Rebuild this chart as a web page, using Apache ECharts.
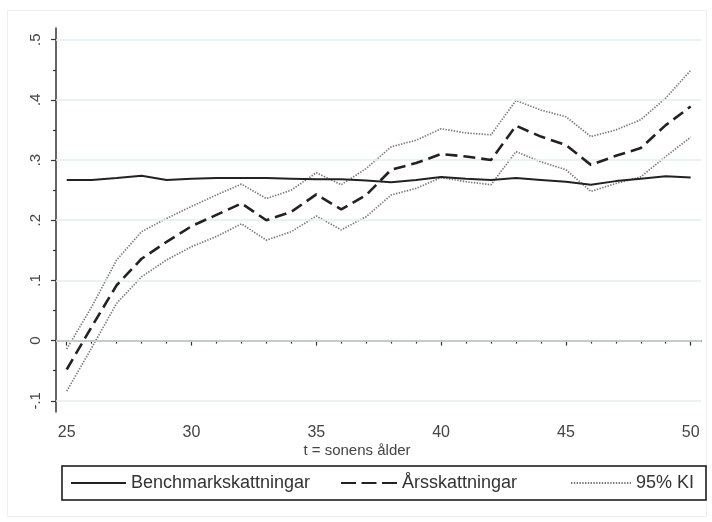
<!DOCTYPE html>
<html><head><meta charset="utf-8">
<script src="https://cdn.jsdelivr.net/npm/echarts@6/dist/echarts.min.js"></script>
<style>html,body{margin:0;padding:0;background:#fff}#c{width:712px;height:522px}</style>
</head><body><div id="c"></div>
<script>
const ages = [25,26,27,28,29,30,31,32,33,34,35,36,37,38,39,40,41,42,43,44,45,46,47,48,49,50];
const benchmark = [0.267,0.267,0.270,0.274,0.267,0.269,0.270,0.270,0.270,0.269,0.268,0.268,0.266,0.263,0.267,0.272,0.269,0.267,0.270,0.267,0.264,0.259,0.265,0.269,0.273,0.271];
const arsskattningar = [-0.048,0.023,0.092,0.136,0.164,0.190,0.209,0.228,0.200,0.214,0.243,0.218,0.242,0.284,0.295,0.310,0.306,0.300,0.357,0.339,0.325,0.292,0.307,0.320,0.358,0.389];
const kiUpper = [-0.014,0.056,0.134,0.181,0.203,0.223,0.242,0.260,0.236,0.250,0.279,0.259,0.286,0.322,0.333,0.352,0.345,0.342,0.399,0.383,0.372,0.339,0.350,0.367,0.403,0.449];
const kiLower = [-0.084,-0.012,0.062,0.106,0.134,0.156,0.173,0.194,0.167,0.181,0.207,0.184,0.206,0.242,0.253,0.271,0.264,0.259,0.314,0.297,0.284,0.248,0.261,0.272,0.306,0.338];
const xMajor = [25,30,35,40,45,50];
const xMinor = [26,27,28,29,31,32,33,34,36,37,38,39,41,42,43,44,46,47,48,49];
const yMajor = [-0.1,0,0.1,0.2,0.3,0.4,0.5];
const yMinor = [-0.05,0.05,0.15,0.25,0.35,0.45];
const xTitle = 't = sonens ålder';
const yLabel = v => { const s = (Math.round(v*10)/10).toString(); return s.replace('0.', '.'); };

const FONT = 'Liberation Sans';
const pair = (a) => ages.map((x,i)=>[x,a[i]]);
const chart = echarts.init(document.getElementById('c'), null, {renderer:'canvas'});
const xMin = 24.571, xMax = 50.413, yMin = -0.1186, yMax = 0.5194;
const legendText = {fontSize:18, color:'#333', fontFamily:FONT};
const legendItem = {color:'rgba(0,0,0,0)', borderWidth:0};
chart.setOption({
  animation:false,
  backgroundColor:'#fff',
  textStyle:{fontFamily:FONT},
  grid:{left:56, right:11, top:28, bottom:110, containLabel:false},
  xAxis:[{
    type:'value', min:xMin, max:xMax, position:'bottom',
    axisLine:{show:true, lineStyle:{color:'#333', width:1.5}},
    axisTick:{show:true, customValues:xMajor, length:5, lineStyle:{color:'#333', width:1.2}},
    axisLabel:{customValues:xMajor, margin:13, fontSize:16, color:'#444', fontFamily:FONT},
    splitLine:{show:false}
  },{
    type:'value', min:xMin, max:xMax, position:'bottom',
    axisLine:{show:false},
    axisTick:{show:true, customValues:xMinor, length:3, lineStyle:{color:'#333', width:1.2}},
    axisLabel:{show:false}, splitLine:{show:false}
  }],
  yAxis:[{
    type:'value', min:yMin, max:yMax, position:'left',
    axisLine:{show:true, lineStyle:{color:'#333', width:1.5}},
    axisTick:{show:true, customValues:yMajor, length:5, lineStyle:{color:'#333', width:1.2}},
    axisLabel:{customValues:yMajor, formatter:yLabel, rotate:90, margin:13, fontSize:15, color:'#444', fontFamily:FONT},
    splitLine:{show:false}
  },{
    type:'value', min:yMin, max:yMax, position:'left',
    axisLine:{show:false},
    axisTick:{show:true, customValues:yMinor, length:3, lineStyle:{color:'#333', width:1.2}},
    axisLabel:{show:false}, splitLine:{show:false}
  }],
  legend:[
    {data:['Benchmarkskattningar'], left:70, top:474, padding:0, itemWidth:55, itemHeight:12, itemGap:5,
     itemStyle:legendItem, textStyle:legendText},
    {data:['Årsskattningar'], left:340, top:474, padding:0, itemWidth:56, itemHeight:12,
     itemStyle:legendItem, textStyle:legendText, lineStyle:{type:[15,5.5]}},
    {data:['95% KI'], left:570, top:474, padding:0, itemWidth:60, itemHeight:12,
     itemStyle:legendItem, textStyle:legendText}
  ],
  graphic:[
    {type:'rect', shape:{x:7.5, y:10.5, width:699, height:506}, style:{fill:null, stroke:'#eeeeee', lineWidth:1}, silent:true, z:-1},
    {type:'rect', shape:{x:62, y:466, width:644, height:34}, style:{fill:null, stroke:'#111', lineWidth:1.5}, silent:true},
    {type:'text', x:357, y:443, style:{text:xTitle, fontSize:15, fill:'#444', fontFamily:FONT, align:'center', verticalAlign:'top'}, silent:true}
  ],
  series:[
    {name:'grid', type:'line', data:[], silent:true, xAxisIndex:0, yAxisIndex:0,
     markLine:{silent:true, symbol:'none', label:{show:false},
       lineStyle:{color:'#e4eeef', width:1.5, type:'solid'},
       data: yMajor.map(v=>({yAxis:v}))}, z:1},
    {name:'95% KI', type:'line', data:pair(kiUpper), symbol:'none', z:3,
     lineStyle:{color:'#7a7a7a', width:1.7, type:[1.4,1.4]}, itemStyle:{color:'#7a7a7a'}},
    {name:'95% KI', type:'line', data:pair(kiLower), symbol:'none', z:3,
     lineStyle:{color:'#7a7a7a', width:1.7, type:[1.4,1.4]}, itemStyle:{color:'#7a7a7a'}},
    {name:'Benchmarkskattningar', type:'line', data:pair(benchmark), symbol:'none', z:4,
     lineStyle:{color:'#222', width:2}, itemStyle:{color:'#222'}},
    {name:'Årsskattningar', type:'line', data:pair(arsskattningar), symbol:'none', z:5,
     lineStyle:{color:'#222', width:2.6, type:[12,6]}, itemStyle:{color:'#222'}}
  ]
});
</script></body></html>
